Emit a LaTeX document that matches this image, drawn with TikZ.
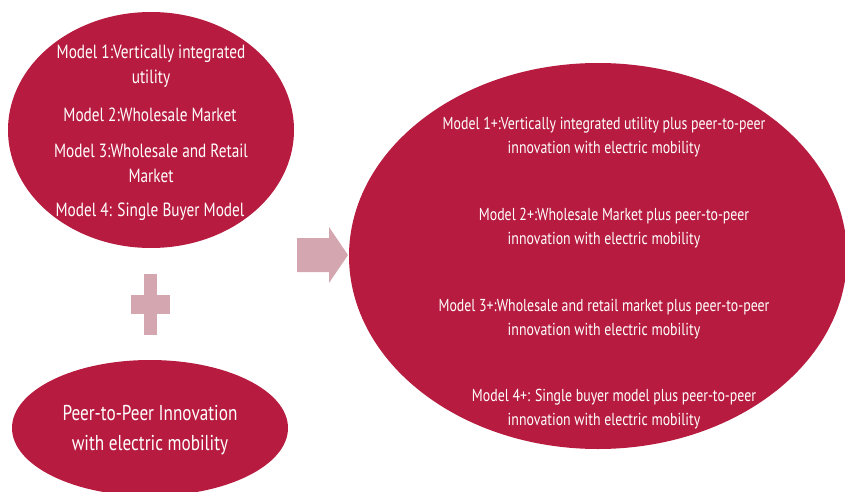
\documentclass[tikz,border=0pt]{standalone}
\usepackage{fontspec}
\setmainfont{PT Sans}[FakeStretch=0.8]
\usetikzlibrary{shapes.geometric}
\definecolor{wine}{RGB}{183,28,64}
\definecolor{rose}{RGB}{212,166,175}
\tikzset{
  blob/.style={ellipse, fill=wine, draw=none, inner sep=0pt},
  label/.style={text=white, align=center, inner sep=0pt},
  sign/.style={fill=rose, draw=none},
}
\begin{document}
\begin{tikzpicture}[x=1pt,y=-1pt]
\useasboundingbox (0,0) rectangle (845,492);
% ellipses
\node[blob, minimum width=286pt, minimum height=236pt] (models) at (151,130) {};
\node[blob, minimum width=276pt, minimum height=136pt] (p2p) at (150,428) {};
\node[blob, minimum width=498pt, minimum height=386pt] (result) at (598,256) {};
% plus sign
\fill[sign] (144,274) rectangle (157,335);
\fill[sign] (131,295) rectangle (170,314);
% arrow
\coordinate (tip) at (348,255);
\fill[sign] (297,238) -- (329,238) -- (329,227) -- (tip) -- (329,283) -- (329,272) -- (297,272) -- cycle;
% texts left
\node[label, font=\fontsize{19.1}{25}\selectfont] (m1) at (151,66) {Model 1:Vertically integrated\\utility};
\node[label, font=\fontsize{19.1}{25}\selectfont] (m2) at (150,115) {Model 2:Wholesale Market};
\node[label, font=\fontsize{19.1}{25}\selectfont] (m3) at (151,163) {Model 3:Wholesale and Retail\\Market};
\node[label, font=\fontsize{19.1}{25}\selectfont] (m4) at (150,212) {Model 4: Single Buyer Model};
\node[label, font=\fontsize{21.5}{30}\selectfont] (p2ptext) at (150,430) {Peer-to-Peer Innovation\\with electric mobility};
% texts right
\node[label, font=\fontsize{17.3}{24}\selectfont] (r1) at (604,137) {Model 1+:Vertically integrated utility plus peer-to-peer\\innovation with electric mobility};
\node[label, font=\fontsize{17.3}{24}\selectfont] (r2) at (604,228) {\hspace*{20pt}Model 2+:Wholesale Market plus peer-to-peer\\innovation with electric mobility};
\node[label, font=\fontsize{17.3}{24}\selectfont] (r3) at (604,319) {Model 3+:Wholesale and retail market plus peer-to-peer\\innovation with electric mobility};
\node[label, font=\fontsize{17.3}{24}\selectfont] (r4) at (604,409) {\hspace*{20pt}Model 4+: Single buyer model plus peer-to-peer\\innovation with electric mobility};
\end{tikzpicture}
\end{document}
